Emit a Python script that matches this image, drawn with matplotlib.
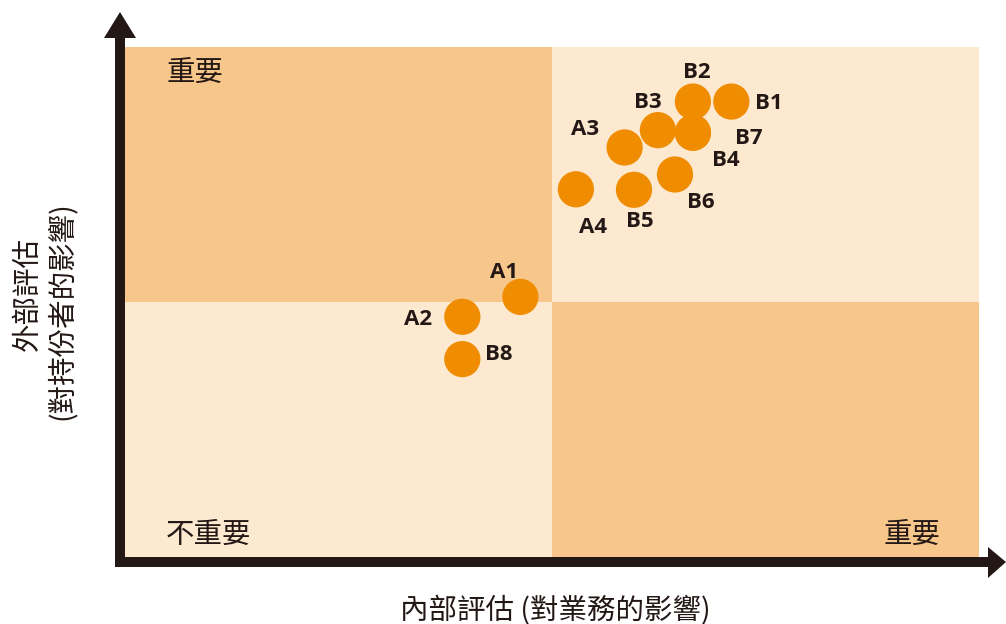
import matplotlib
matplotlib.use("Agg")
import matplotlib.pyplot as plt
from matplotlib.patches import Polygon, Rectangle

# ---- data ----
labels = ["A1", "A2", "B8", "A3", "A4", "B1", "B2", "B3", "B4", "B5", "B6", "B7"]
x_internal = [4.63, 3.95, 3.95, 5.85, 5.28, 7.10, 6.65, 6.24, 6.65, 5.96, 6.44, 6.65]
y_external = [5.10, 4.71, 3.88, 8.03, 7.21, 8.93, 8.93, 8.37, 8.32, 7.20, 7.50, 8.32]
quadrant_labels = ["重要", "不重要", "重要"]
x_title = "內部評估 (對業務的影響)"
y_title_lines = ["外部評估", "(對持份者的影響)"]

# label offsets (pixels, x right / y up)
label_offsets = {
    "A1": (-16, 24), "A2": (-44, -3), "B8": (36, 5), "A3": (-40, 18),
    "A4": (17, -38), "B1": (37, -2), "B2": (4, 29), "B3": (-10, 28),
    "B4": (33, -28), "B5": (6, -32), "B6": (26, -28), "B7": (56, -6),
}

W, H = 1006, 624
DARK_Q = "#F7C68B"
LIGHT_Q = "#FDE8D0"
DOT = "#F08C00"
INK = "#231815"
CJK = ["Noto Sans CJK TC", "DejaVu Sans"]

fig = plt.figure(figsize=(W / 100, H / 100), dpi=100)

# main axes in pixel-derived figure fractions
left, right, top, bottom = 125, 979, 47, 557
ax = fig.add_axes([left / W, 1 - bottom / H, (right - left) / W, (bottom - top) / H])
ax.set_xlim(0, 10)
ax.set_ylim(0, 10)
ax.axis("off")

mid = 5.0
ax.add_patch(Rectangle((0, mid), mid, 10 - mid, facecolor=DARK_Q, edgecolor="none", zorder=0))
ax.add_patch(Rectangle((mid, mid), 10 - mid, 10 - mid, facecolor=LIGHT_Q, edgecolor="none", zorder=0))
ax.add_patch(Rectangle((0, 0), mid, mid, facecolor=LIGHT_Q, edgecolor="none", zorder=0))
ax.add_patch(Rectangle((mid, 0), 10 - mid, mid, facecolor=DARK_Q, edgecolor="none", zorder=0))

ax.scatter(x_internal, y_external, s=680, color=DOT, edgecolors="none", zorder=3)

for lab, xv, yv in zip(labels, x_internal, y_external):
    dx, dy = label_offsets[lab]
    ax.annotate(lab, (xv, yv), xytext=(dx, dy), textcoords="offset pixels",
                ha="center", va="center", fontsize=16, fontweight="bold",
                family=["Open Sans", "DejaVu Sans"], color=INK, zorder=4)

# overlay axes in pixel coordinates for arrows & titles
ov = fig.add_axes([0, 0, 1, 1], zorder=5)
ov.set_xlim(0, W)
ov.set_ylim(H, 0)
ov.axis("off")
ov.patch.set_alpha(0)

# vertical axis arrow
ov.add_patch(Rectangle((115, 36), 10, 567 - 36, facecolor=INK, edgecolor="none"))
ov.add_patch(Polygon([(104, 38), (136, 38), (120, 12)], closed=True, facecolor=INK, edgecolor="none"))
# horizontal axis arrow
ov.add_patch(Rectangle((115, 557), 990 - 115, 10, facecolor=INK, edgecolor="none"))
ov.add_patch(Polygon([(988, 547), (988, 578), (1006, 562)], closed=True, facecolor=INK, edgecolor="none"))

# quadrant labels
ov.text(195, 73, quadrant_labels[0], ha="center", va="center", fontsize=20.5, family=CJK, color=INK)
ov.text(209, 535, quadrant_labels[1], ha="center", va="center", fontsize=20.5, family=CJK, color=INK)
ov.text(912, 535, quadrant_labels[2], ha="center", va="center", fontsize=20.5, family=CJK, color=INK)

# axis titles
ov.text(555, 611, x_title, ha="center", va="center", fontsize=20.5, family=CJK, color=INK)
ov.text(28, 294, y_title_lines[0], ha="center", va="center", rotation=90, fontsize=20.5, family=CJK, color=INK)
ov.text(62, 311, y_title_lines[1], ha="center", va="center", rotation=90, fontsize=20.5, family=CJK, color=INK)

fig.savefig("out.png", dpi=100, facecolor="white")
